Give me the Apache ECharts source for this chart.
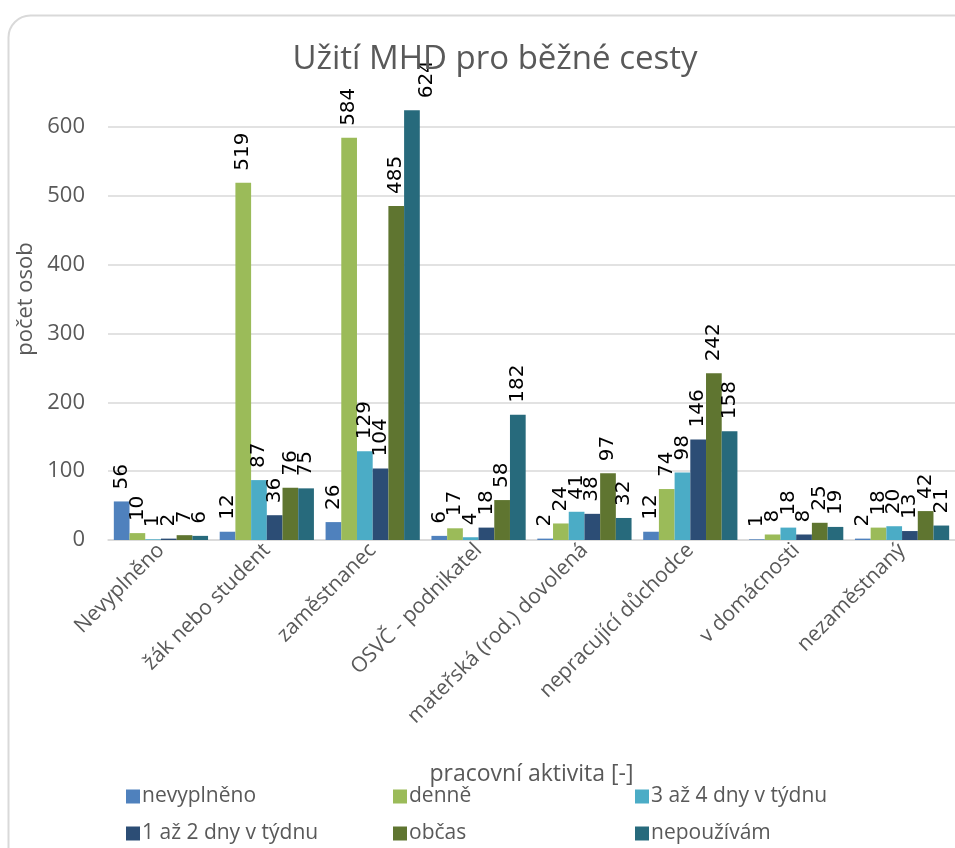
<!DOCTYPE html>
<html>
<head>
<meta charset="utf-8">
<script src="https://cdn.jsdelivr.net/npm/echarts@6/dist/echarts.min.js"></script>
<style>
  html, body { margin: 0; padding: 0; background: #fff; }
  #chart { width: 955px; height: 848px; }
</style>
</head>
<body>
<div id="chart"></div>
<script>
  // kategorie - pracovní aktivita
  var categories = ['Nevyplněno', 'žák nebo student', 'zaměstnanec', 'OSVČ - podnikatel',
    'mateřská (rod.) dovolená', 'nepracující důchodce', 'v domácnosti', 'nezaměstnaný'];

  var nevyplneno = [56, 12, 26, 6, 2, 12, 1, 2];
  var denne = [10, 519, 584, 17, 24, 74, 8, 18];
  var tri_ctyri = [1, 87, 129, 4, 41, 98, 18, 20];
  var jeden_dva = [2, 36, 104, 18, 38, 146, 8, 13];
  var obcas = [7, 76, 485, 58, 97, 242, 25, 42];
  var nepouzivam = [6, 75, 624, 182, 32, 158, 19, 21];

  var yTicks = [0, 100, 200, 300, 400, 500, 600, 700];

  var seriesNames = ['nevyplněno', 'denně', '3 až 4 dny v týdnu', '1 až 2 dny v týdnu', 'občas', 'nepoužívám'];
  var seriesData = [nevyplneno, denne, tri_ctyri, jeden_dva, obcas, nepouzivam];
  var colors = ['#4f81bd', '#9bbb59', '#4bacc6', '#2c4d75', '#5f7530', '#276a7c'];

  var textColor = '#595959';
  var font = 'Open Sans';

  var myChart = echarts.init(document.getElementById('chart'));

  var series = seriesNames.map(function (name, i) {
    return {
      name: name,
      type: 'bar',
      data: seriesData[i],
      barGap: '0%',
      barCategoryGap: '11%',
      itemStyle: { color: colors[i] },
      label: {
        show: true,
        position: 'top',
        rotate: 90,
        align: 'left',
        verticalAlign: 'middle',
        distance: 12,
        color: '#000',
        fontFamily: 'DejaVu Sans',
        fontSize: 20
      },
      // popisky nesmí vyjet nad horní okraj (jako v Excelu)
      labelLayout: function (params) {
        if (params.labelRect.y < 75) {
          return { dy: 75 - params.labelRect.y };
        }
        return {};
      }
    };
  });

  // legenda: 3 sloupce x 2 řádky, každá položka zvlášť
  var legendLeft = [126, 393, 635];
  var legendTop = [786, 823];
  var legends = seriesNames.map(function (name, i) {
    return {
      data: [name],
      left: legendLeft[i % 3],
      top: legendTop[Math.floor(i / 3)],
      padding: 0,
      itemWidth: 14,
      itemHeight: 14,
      itemGap: 0,
      icon: 'rect',
      selectedMode: false,
      textStyle: { color: textColor, fontFamily: font, fontSize: 21, padding: [0, 0, 0, -3] }
    };
  });

  var option = {
    backgroundColor: '#fff',
    animation: false,
    color: colors,
    title: {
      text: 'Užití MHD pro běžné cesty',
      left: 490,
      textAlign: 'center',
      top: 38,
      textStyle: { color: textColor, fontFamily: font, fontWeight: 'normal', fontSize: 33 }
    },
    graphic: [{
      type: 'rect',
      left: 6,
      top: 13,
      silent: true,
      z: -10,
      shape: { width: 1000, height: 900, r: 22 },
      style: { fill: 'none', stroke: '#d9d9d9', lineWidth: 2 }
    }],
    legend: legends,
    grid: { left: 108, top: 58, width: 862, height: 482, containLabel: false },
    xAxis: {
      type: 'category',
      data: categories,
      name: 'pracovní aktivita [-]',
      nameLocation: 'middle',
      nameGap: 223,
      nameTextStyle: { color: textColor, fontFamily: font, fontSize: 23 },
      axisTick: { show: false },
      axisLine: { lineStyle: { color: '#d9d9d9', width: 1.5 } },
      axisLabel: { interval: 0, rotate: 45, margin: 7, color: textColor, fontFamily: font, fontSize: 21 }
    },
    yAxis: {
      type: 'value',
      min: yTicks[0],
      max: yTicks[yTicks.length - 1],
      interval: 100,
      name: 'počet osob',
      nameLocation: 'middle',
      nameGap: 52,
      nameTextStyle: { color: textColor, fontFamily: font, fontSize: 22 },
      axisLine: { show: false },
      axisTick: { show: false },
      axisLabel: {
        margin: 23,
        color: textColor,
        fontFamily: font,
        fontSize: 22,
        formatter: function (v) { return v === 700 ? '' : v; }
      },
      splitLine: { showMaxLine: false, lineStyle: { color: '#d9d9d9', width: 1.5 } }
    },
    series: series
  };

  myChart.setOption(option);
</script>
</body>
</html>
